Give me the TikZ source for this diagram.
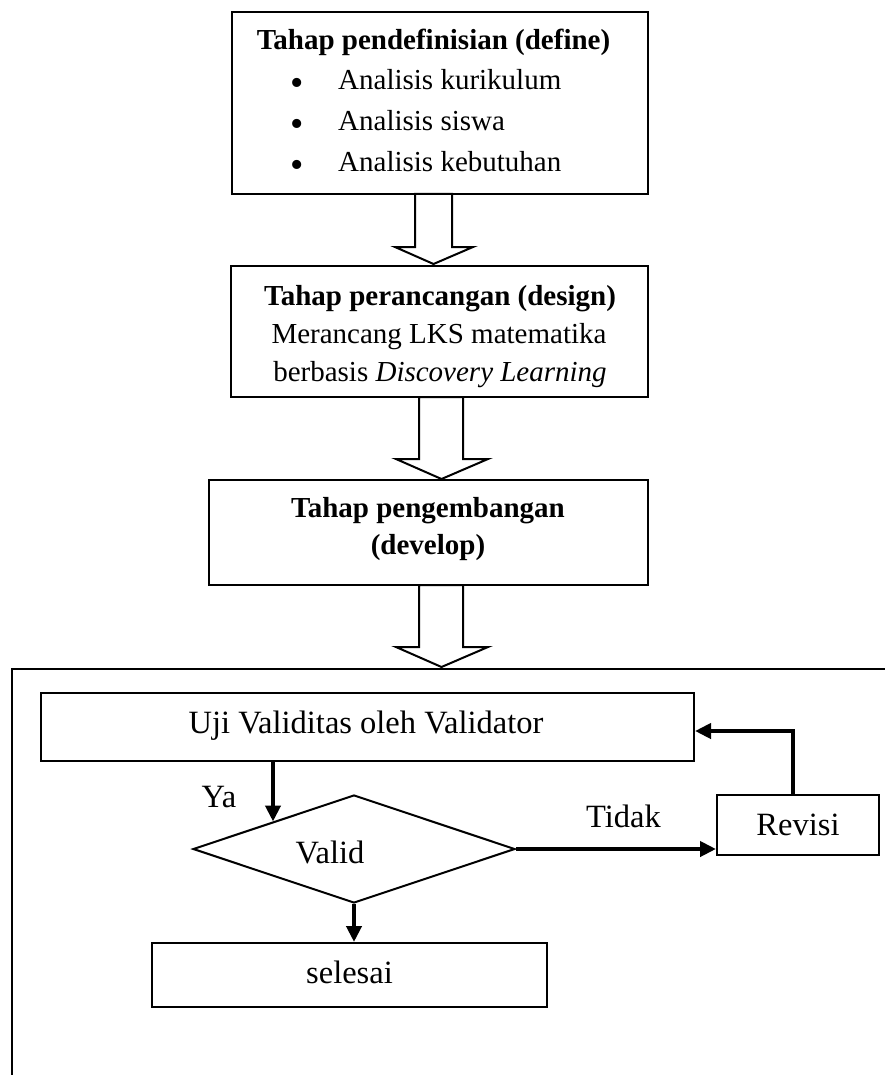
\documentclass[tikz,border=0pt]{standalone}
\usepackage{fontspec}
\setmainfont{Liberation Serif}
\usetikzlibrary{arrows.meta,shapes.geometric,calc}
\begin{document}
\begin{tikzpicture}[x=1pt,y=-1pt,
  box/.style={draw, line width=2pt, inner sep=0pt},
  hollow/.style={draw, line width=2pt, line join=miter},
  flow/.style={line width=4pt, -{Triangle[length=16pt,width=15pt]}},
  ttop/.style={font=\fontsize{29}{35}\selectfont, inner sep=0pt, anchor=base},
  dot/.style={font=\fontsize{38}{40}\selectfont, inner sep=0pt, anchor=base},
  tbot/.style={font=\fontsize{32.5}{39}\selectfont, inner sep=0pt, anchor=base},
]
\useasboundingbox (0,0) rectangle (885,1075);

% ---- stage 1
\node[box, minimum width=416pt, minimum height=182pt] (b1) at (440,103) {};
\node[ttop] (h1) at (433.5,50) {\textbf{Tahap pendefinisian (define)}};
\node[dot] (d1) at (297,95.5) {\textbullet};
\node[dot] (d2) at (297,136.5) {\textbullet};
\node[dot] (d3) at (297,177.5) {\textbullet};
\node[ttop, anchor=base west] (l1) at (338,90) {Analisis kurikulum};
\node[ttop, anchor=base west] (l2) at (338,131) {Analisis siswa};
\node[ttop, anchor=base west] (l3) at (338,172) {Analisis kebutuhan};

% ---- stage 2
\node[box, minimum width=417pt, minimum height=131pt] (b2) at (439.5,331.5) {};
\node[ttop] (h2) at (440,305) {\textbf{Tahap perancangan (design)}};
\node[ttop] (m2) at (439,343) {Merancang LKS matematika};
\node[ttop] (n2) at (440,381) {berbasis \textit{Discovery Learning}};

% ---- stage 3
\node[box, minimum width=439pt, minimum height=105pt] (b3) at (428.5,532.5) {};
\node[ttop] (h3) at (428,517) {\textbf{Tahap pengembangan}};
\node[ttop] (m3) at (428,554) {\textbf{(develop)}};

% ---- hollow block arrows
\draw[hollow] (415,194) -- (415,247) -- (395,247) -- (433.5,264)
  -- (473,247) -- (452,247) -- (452,194) -- cycle;
\draw[hollow] (419,397) -- (419,459) -- (396,459) -- (441.5,479)
  -- (488,459) -- (463,459) -- (463,397) -- cycle;
\draw[hollow] (419,585) -- (419,647) -- (396,647) -- (441.5,667)
  -- (488,647) -- (463,647) -- (463,585) -- cycle;

% ---- frame of the development stage
\draw[line width=2.5pt] (885,669) -- (12,669) -- (12,1075);

% ---- validation loop
\node[box, minimum width=653pt, minimum height=68pt] (uji) at (367.5,727) {};
\node[tbot] (ujit) at (366,733) {Uji Validitas oleh Validator};

\node[draw, line width=2pt, shape=diamond, inner sep=0pt,
      minimum width=322pt, minimum height=108pt] (dia) at (354,849) {};
\node[tbot] (valt) at (330,863) {Valid};

\node[box, minimum width=162pt, minimum height=60pt] (rev) at (798,825) {};
\node[tbot] (revt) at (798,835) {Revisi};

\node[box, minimum width=395pt, minimum height=64pt] (sel) at (349.5,975) {};
\node[tbot] (selt) at (349.5,983) {selesai};

\node[tbot] (ya) at (219,807) {Ya};
\node[tbot] (tidak) at (623.5,827) {Tidak};

\draw[flow] (uji.south -| dia.north west) -- (dia.north west);
\draw[flow] (dia.south) -- (dia.south |- sel.north);
\draw[flow] (dia.east) -- (dia.east -| rev.west);
\draw[flow] ($(rev.north)+(-5,0)$) |- ($(uji.east)+(0,4)$);
\end{tikzpicture}
\end{document}
